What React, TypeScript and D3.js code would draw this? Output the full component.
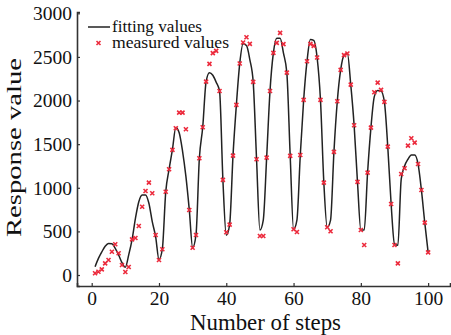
import React, { useRef, useEffect } from "react";
import * as d3 from "d3";

const steps = d3.range(1, 101);

// measured response values at steps 1..100
const measured = [
  20, 38, 65, 134, 172, 267, 352, 249, 115, 34,
  92, 409, 424, 562, 783, 963, 1059, 937, 459, 172,
  295, 955, 1212, 1434, 1682, 1862, 1862, 1671, 745, 313,
  459, 1338, 1694, 2217, 2420, 2543, 2569, 2110, 1090, 490,
  577, 1369, 1950, 2424, 2665, 2726, 2650, 2214, 1327, 447,
  447, 1346, 2110, 2546, 2661, 2776, 2646, 2320, 1365, 524,
  493, 1376, 2007, 2451, 2650, 2627, 2493, 2007, 1059, 547,
  501, 1411, 1992, 2351, 2520, 2539, 2183, 1717, 1067, 516,
  344, 1173, 1690, 2095, 2206, 2122, 1984, 1472, 814, 344,
  134, 1158, 1224, 1483, 1568, 1518, 1273, 975, 600, 260,
];

// fitted curve values at steps 1..100
const fitted = [
  95, 190, 265, 330, 362, 358, 306, 229, 141, 90,
  230, 405, 650, 840, 918, 918, 822, 611, 440, 178,
  300, 950, 1212, 1440, 1690, 1630, 1420, 1130, 750, 315,
  460, 1338, 1694, 2217, 2320, 2290, 2210, 2110, 1090, 455,
  577, 1369, 1950, 2424, 2650, 2630, 2470, 2214, 1327, 516,
  630, 1346, 2110, 2546, 2715, 2715, 2543, 2320, 1365, 524,
  630, 1376, 2007, 2451, 2700, 2690, 2493, 2007, 1059, 547,
  630, 1411, 1992, 2351, 2520, 2540, 2183, 1717, 1067, 516,
  516, 1173, 1690, 2045, 2115, 2110, 1984, 1472, 814, 355,
  340, 1100, 1250, 1327, 1376, 1376, 1273, 975, 600, 260,
];

const xTicks = [0, 20, 40, 60, 80, 100];
const yTicks = [0, 500, 1000, 1500, 2000, 2500, 3000];
const legendLabels = ["fitting values", "measured values"];

const FONT = "Liberation Serif, serif";

export default function App() {
  const svgRef = useRef(null);

  useEffect(() => {
    document.body.style.margin = "0";
    const svg = d3.select(svgRef.current);
    svg.selectAll("*").remove();

    const x = d3.scaleLinear().domain([-4.37, 106.5]).range([77, 450]);
    const y = d3.scaleLinear().domain([-126, 3015]).range([286, 12]);

    const g = svg.append("g").attr("font-family", FONT);

    // axes
    const xAxis = g
      .append("g")
      .attr("transform", `translate(0,${y.range()[0]})`)
      .call(
        d3.axisBottom(x).tickValues(xTicks).tickSize(-3).tickPadding(4).tickFormat(d3.format("d"))
      );
    const yAxis = g
      .append("g")
      .attr("transform", `translate(${x.range()[0]},0)`)
      .call(
        d3.axisLeft(y).tickValues(yTicks).tickSize(-3).tickPadding(5).tickFormat(d3.format("d"))
      );

    [xAxis, yAxis].forEach((ax) => {
      ax.attr("font-family", FONT).attr("font-size", 19.5);
      ax.select(".domain").attr("stroke", "#333").attr("stroke-width", 1.6);
      ax.selectAll(".tick line").attr("stroke", "#333").attr("stroke-width", 1.2);
      ax.selectAll("text").attr("fill", "#111");
    });
    xAxis.selectAll("text").attr("dy", "0.78em");

    // fitted curve
    const line = d3
      .line<number>()
      .x((d, i) => x(steps[i]))
      .y((d) => y(d))
      .curve(d3.curveMonotoneX);
    g.append("path")
      .datum(fitted)
      .attr("d", line)
      .attr("fill", "none")
      .attr("stroke", "#222")
      .attr("stroke-width", 1.5);

    // measured points
    const cross = "M-2,-2L2,2M-2,2L2,-2";
    g.selectAll(".pt")
      .data(measured)
      .join("path")
      .attr("class", "pt")
      .attr("transform", (d, i) => `translate(${x(steps[i])},${y(d)})`)
      .attr("d", cross)
      .attr("stroke", "#ec2a3c")
      .attr("stroke-width", 1.6)
      .attr("fill", "none");

    // legend
    const lg = g.append("g");
    lg.append("line")
      .attr("x1", 88)
      .attr("x2", 110)
      .attr("y1", 27)
      .attr("y2", 27)
      .attr("stroke", "#222")
      .attr("stroke-width", 1.5);
    lg.append("path")
      .attr("transform", "translate(98.5,43)")
      .attr("d", cross)
      .attr("stroke", "#ec2a3c")
      .attr("stroke-width", 1.6);
    lg.selectAll("text")
      .data(legendLabels)
      .join("text")
      .attr("x", 112)
      .attr("y", (d, i) => (i === 0 ? 32 : 47.5))
      .attr("font-size", 17.5)
      .attr("fill", "#111")
      .attr("textLength", (d, i) => (i === 0 ? 90 : 117))
      .attr("lengthAdjust", "spacingAndGlyphs")
      .text((d) => d);

    // axis titles
    g.append("text")
      .attr("x", 265.5)
      .attr("y", 330)
      .attr("text-anchor", "middle")
      .attr("font-size", 22.5)
      .attr("fill", "#111")
      .attr("textLength", 151)
      .attr("lengthAdjust", "spacingAndGlyphs")
      .text("Number of steps");

    g.append("text")
      .attr("transform", "translate(21,147.5) rotate(-90)")
      .attr("text-anchor", "middle")
      .attr("font-size", 20.5)
      .attr("fill", "#111")
      .attr("textLength", 179)
      .attr("lengthAdjust", "spacingAndGlyphs")
      .text("Response value");
  }, []);

  return (
    <div style={{ position: "absolute", left: 0, top: 0 }}>
      <svg ref={svgRef} width={451} height={335} style={{ display: "block", background: "#fff" }} />
    </div>
  );
}
